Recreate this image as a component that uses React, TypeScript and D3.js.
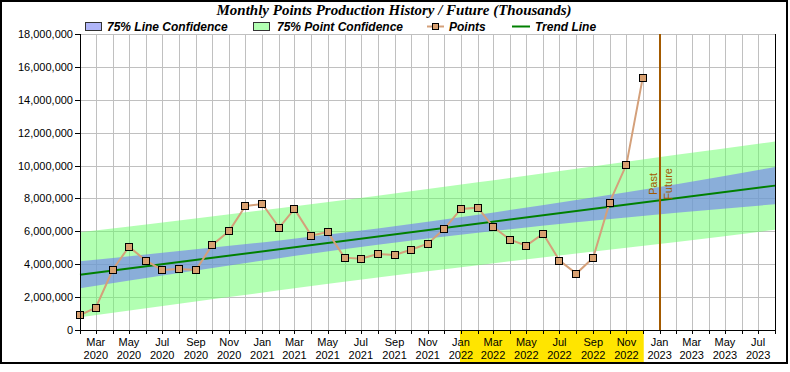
import { useEffect, useRef } from "react";
import * as d3 from "d3";

// monthly history (Feb 2020 - Dec 2022)
const pointMonths = [
  "2020-02", "2020-03", "2020-04", "2020-05", "2020-06", "2020-07", "2020-08", "2020-09", "2020-10", "2020-11", "2020-12",
  "2021-01", "2021-02", "2021-03", "2021-04", "2021-05", "2021-06", "2021-07", "2021-08", "2021-09", "2021-10", "2021-11", "2021-12",
  "2022-01", "2022-02", "2022-03", "2022-04", "2022-05", "2022-06", "2022-07", "2022-08", "2022-09", "2022-10", "2022-11", "2022-12",
];
const pointValues = [
  900000, 1360000, 3650000, 5070000, 4220000, 3650000, 3710000, 3650000, 5170000, 6020000, 7540000,
  7660000, 6220000, 7360000, 5740000, 5960000, 4400000, 4340000, 4620000, 4560000, 4880000, 5250000, 6140000,
  7360000, 7440000, 6270000, 5490000, 5130000, 5860000, 4220000, 3430000, 4400000, 7740000, 10060000, 15350000,
];

// trend line end points
const trendMonths = ["2020-02", "2023-08"];
const trendValues = [3360000, 8780000];

// confidence bands, read every 6 months
const bandMonths = ["2020-02", "2020-08", "2021-02", "2021-08", "2022-02", "2022-08", "2023-02", "2023-08"];
const lineUpper = [4180000, 4800000, 5450000, 6170000, 7010000, 7910000, 8870000, 9910000];
const lineLower = [2540000, 3460000, 4370000, 5190000, 5910000, 6550000, 7130000, 7650000];
const pointUpper = [5940000, 6660000, 7410000, 8170000, 8980000, 9810000, 10650000, 11470000];
const pointLower = [780000, 1600000, 2410000, 3190000, 3940000, 4650000, 5350000, 6090000];

const xStart = "2020-02";
const xEnd = "2023-08";
const pastFutureMonth = "2023-01";
const pastFutureLabelValue = 8880000;
const highlightMonths = ["2022-01", "2022-12"];
const yMax = 18000000;
const yTicks = [0, 2000000, 4000000, 6000000, 8000000, 10000000, 12000000, 14000000, 16000000, 18000000];

const title = "Monthly Points Production History / Future (Thousands)";

const parseMonth = d3.timeParse("%Y-%m");

export default function App() {
  const svgRef = useRef<SVGSVGElement>(null);

  useEffect(() => {
    const W = 790, H = 372;
    const plot = { left: 80, right: 775, top: 34, bottom: 330 };

    const svg = d3.select(svgRef.current).attr("width", W).attr("height", H).html(null);

    const x = d3.scaleTime()
      .domain([parseMonth(xStart) as Date, parseMonth(xEnd) as Date])
      .range([plot.left, plot.right]);
    const y = d3.scaleLinear().domain([0, yMax]).range([plot.bottom, plot.top]);

    svg.append("rect").attr("width", W).attr("height", H).attr("fill", "#fff");

    // grid
    const months = d3.timeMonth.range(parseMonth(xStart) as Date, d3.timeMonth.offset(parseMonth(xEnd) as Date, 1));
    svg.append("g").selectAll("line").data(months).join("line")
      .attr("x1", d => Math.round(x(d)) + 0.5).attr("x2", d => Math.round(x(d)) + 0.5)
      .attr("y1", plot.top).attr("y2", plot.bottom)
      .attr("stroke", "#c0c0c0").attr("stroke-width", 1);
    svg.append("g").selectAll("line").data(yTicks.slice(1)).join("line")
      .attr("x1", plot.left).attr("x2", plot.right)
      .attr("y1", d => Math.round(y(d)) + 0.5).attr("y2", d => Math.round(y(d)) + 0.5)
      .attr("stroke", "#c0c0c0").attr("stroke-width", 1);

    // bands
    const band = bandMonths.map((m, i) => ({
      date: parseMonth(m) as Date, lu: lineUpper[i], ll: lineLower[i], pu: pointUpper[i], pl: pointLower[i],
    }));
    svg.append("path").datum(band)
      .attr("d", d3.area<typeof band[0]>().x(d => x(d.date)).y0(d => y(d.pl)).y1(d => y(d.pu)).curve(d3.curveMonotoneX))
      .attr("fill", "#66ff66").attr("fill-opacity", 0.5);
    svg.append("path").datum(band)
      .attr("d", d3.area<typeof band[0]>().x(d => x(d.date)).y0(d => y(d.ll)).y1(d => y(d.lu)).curve(d3.curveMonotoneX))
      .attr("fill", "#6f78f3").attr("fill-opacity", 0.6);

    // trend
    const trend = trendMonths.map((m, i) => ({ date: parseMonth(m) as Date, value: trendValues[i] }));
    svg.append("path").datum(trend)
      .attr("d", d3.line<typeof trend[0]>().x(d => x(d.date)).y(d => y(d.value)))
      .attr("fill", "none").attr("stroke", "#008000").attr("stroke-width", 2);

    // points
    const pts = pointMonths.map((m, i) => ({ date: parseMonth(m) as Date, value: pointValues[i] }));
    svg.append("path").datum(pts)
      .attr("d", d3.line<typeof pts[0]>().x(d => x(d.date)).y(d => y(d.value)))
      .attr("fill", "none").attr("stroke", "#d4a07a").attr("stroke-width", 2);
    svg.append("g").selectAll("rect").data(pts).join("rect")
      .attr("x", d => Math.round(x(d.date)) - 3.5).attr("y", d => Math.round(y(d.value)) - 3.5)
      .attr("width", 7).attr("height", 7)
      .attr("fill", "#d8a070").attr("stroke", "#000").attr("stroke-width", 1);

    // past / future
    const pfx = Math.round(x(parseMonth(pastFutureMonth) as Date));
    svg.append("line").attr("x1", pfx).attr("x2", pfx).attr("y1", plot.top).attr("y2", plot.bottom)
      .attr("stroke", "#a35a00").attr("stroke-width", 2);
    const ly = y(pastFutureLabelValue);
    svg.append("text").attr("transform", `translate(${pfx - 3},${ly}) rotate(-90)`)
      .attr("text-anchor", "middle").attr("font-family", "Liberation Sans, Arial, sans-serif")
      .attr("font-size", 11).attr("fill", "#a35a00").text("Past");
    svg.append("text").attr("transform", `translate(${pfx + 12},${ly}) rotate(-90)`)
      .attr("text-anchor", "middle").attr("font-family", "Liberation Sans, Arial, sans-serif")
      .attr("font-size", 11).attr("fill", "#a35a00").text("Future");

    // highlighted year under the x axis
    const hx0 = x(parseMonth(highlightMonths[0]) as Date) - 1;
    const hx1 = x(parseMonth(highlightMonths[1]) as Date) + 1;
    svg.append("rect").attr("x", hx0).attr("y", plot.bottom + 1).attr("width", hx1 - hx0).attr("height", 363 - plot.bottom - 1)
      .attr("fill", "#ffe500");

    // x axis
    const xAxis = svg.append("g");
    xAxis.append("line").attr("x1", plot.left).attr("x2", plot.right).attr("y1", plot.bottom + 0.5).attr("y2", plot.bottom + 0.5)
      .attr("stroke", "#000");
    xAxis.selectAll("line.tick").data(months).join("line").attr("class", "tick")
      .attr("x1", d => Math.round(x(d)) + 0.5).attr("x2", d => Math.round(x(d)) + 0.5)
      .attr("y1", plot.bottom).attr("y2", plot.bottom + 4).attr("stroke", "#000");
    const labelled = months.filter(d => d.getMonth() % 2 === 0);
    const xl = xAxis.selectAll("text").data(labelled).join("text")
      .attr("x", d => x(d)).attr("text-anchor", "middle")
      .attr("font-family", "Liberation Sans, Arial, sans-serif").attr("font-size", 11).attr("fill", "#000");
    xl.append("tspan").attr("x", d => x(d)).attr("y", 346).text(d => d3.timeFormat("%b")(d));
    xl.append("tspan").attr("x", d => x(d)).attr("y", 359).text(d => d3.timeFormat("%Y")(d));

    // y axis
    const yAxis = svg.append("g");
    yAxis.append("line").attr("x1", plot.left + 0.5).attr("x2", plot.left + 0.5).attr("y1", plot.top).attr("y2", plot.bottom + 4)
      .attr("stroke", "#000");
    yAxis.selectAll("line.tick").data(yTicks).join("line").attr("class", "tick")
      .attr("x1", plot.left - 5).attr("x2", plot.left)
      .attr("y1", d => Math.round(y(d)) + 0.5).attr("y2", d => Math.round(y(d)) + 0.5).attr("stroke", "#000");
    yAxis.selectAll("text").data(yTicks).join("text")
      .attr("x", plot.left - 7).attr("y", d => y(d) + 4).attr("text-anchor", "end")
      .attr("font-family", "Liberation Sans, Arial, sans-serif").attr("font-size", 11).attr("fill", "#000")
      .text(d => d3.format(",")(d));

    // right border
    svg.append("line").attr("x1", plot.right + 0.5).attr("x2", plot.right + 0.5).attr("y1", plot.top).attr("y2", plot.bottom)
      .attr("stroke", "#000");

    // legend
    const lg = svg.append("g").attr("font-family", "Liberation Sans, Arial, sans-serif")
      .attr("font-size", 12).attr("font-weight", "bold").attr("font-style", "italic");
    lg.append("rect").attr("x", 85.5).attr("y", 22.5).attr("width", 16).attr("height", 8)
      .attr("fill", "#6f78f3").attr("fill-opacity", 0.55).attr("stroke", "#333");
    lg.append("text").attr("x", 107).attr("y", 31).text("75% Line Confidence");
    lg.append("rect").attr("x", 253.5).attr("y", 22.5).attr("width", 16).attr("height", 8)
      .attr("fill", "#66ff66").attr("fill-opacity", 0.5).attr("stroke", "#333");
    lg.append("text").attr("x", 277).attr("y", 31).text("75% Point Confidence");
    lg.append("line").attr("x1", 427).attr("x2", 444).attr("y1", 26.5).attr("y2", 26.5)
      .attr("stroke", "#d4a07a").attr("stroke-width", 2);
    lg.append("rect").attr("x", 432.5).attr("y", 23.5).attr("width", 6).attr("height", 6)
      .attr("fill", "#d8a070").attr("stroke", "#000");
    lg.append("text").attr("x", 449).attr("y", 31).text("Points");
    lg.append("line").attr("x1", 512).attr("x2", 530).attr("y1", 26.5).attr("y2", 26.5)
      .attr("stroke", "#008000").attr("stroke-width", 2);
    lg.append("text").attr("x", 535).attr("y", 31).text("Trend Line");

    // title
    svg.append("text").attr("x", 394).attr("y", 15).attr("text-anchor", "middle")
      .attr("font-family", "Liberation Serif, Times New Roman, serif").attr("font-size", 15)
      .attr("font-weight", "bold").attr("font-style", "italic").text(title);

    // outer frame
    svg.append("rect").attr("x", 1).attr("y", 1).attr("width", 786).attr("height", 362)
      .attr("fill", "none").attr("stroke", "#000").attr("stroke-width", 2);
  }, []);

  return <svg ref={svgRef} style={{ position: "absolute", left: 0, top: 0, display: "block" }}></svg>;
}
